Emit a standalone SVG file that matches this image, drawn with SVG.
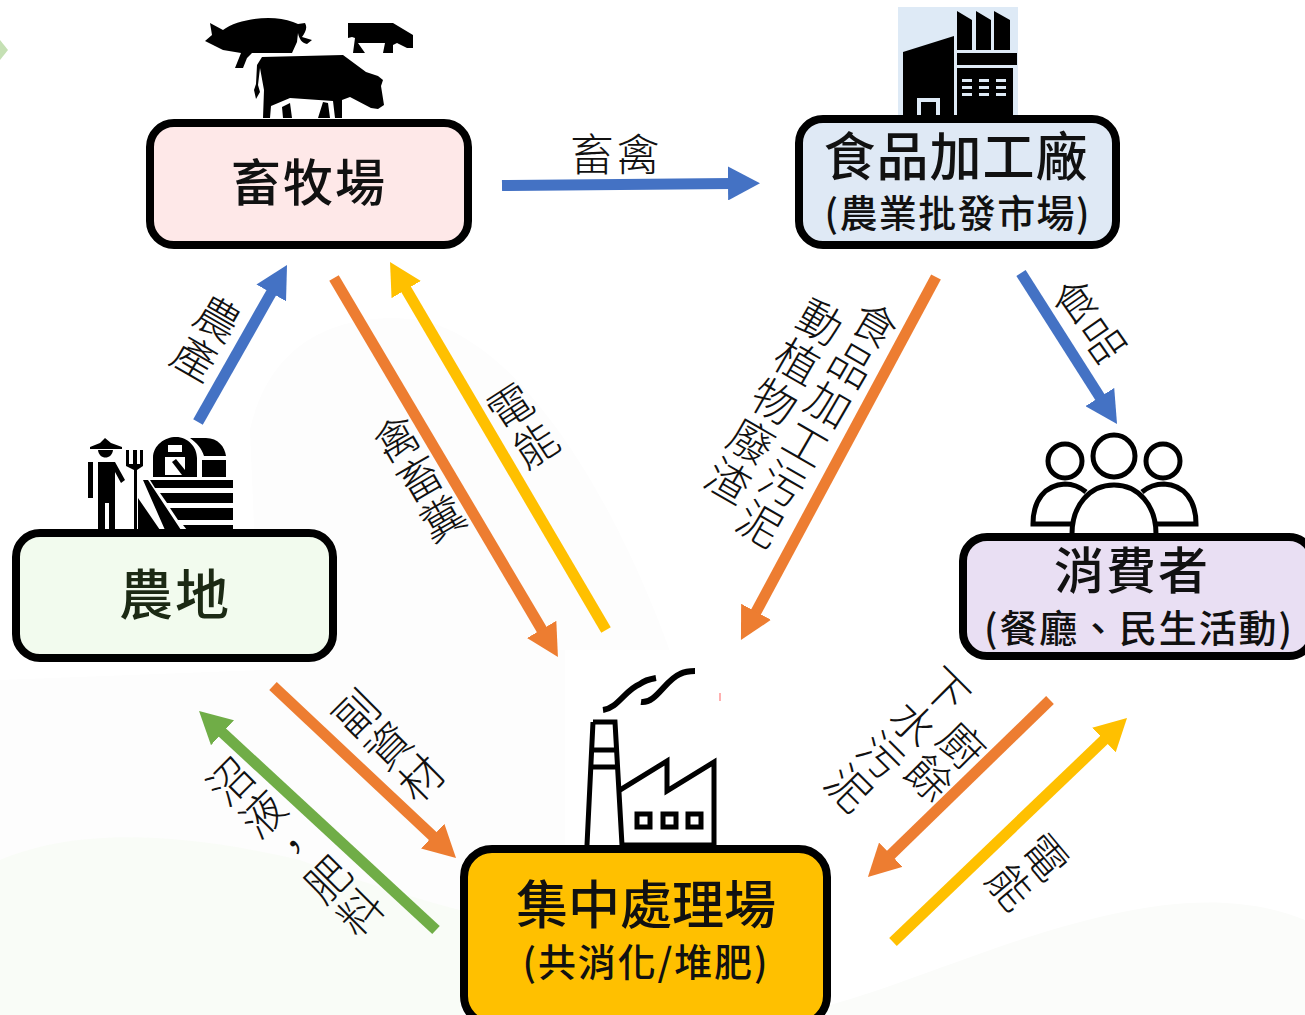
<svg xmlns="http://www.w3.org/2000/svg" width="1305" height="1015" viewBox="0 0 1305 1015">
<style>
.box{stroke:#000;stroke-width:8}
.c{fill:none;stroke-width:11}
.t{font-family:"Noto Sans CJK TC","Noto Sans CJK SC",sans-serif;fill:#111;text-anchor:middle}
.title{font-size:50px;font-weight:500;letter-spacing:2px}
.sub{font-size:38px;font-weight:500}
.lab{font-size:44px;font-weight:300;letter-spacing:2px}
.v{writing-mode:vertical-rl}
.ol{fill:none;stroke:#000;stroke-width:5}
</style>
<defs>
<marker id="hb" markerUnits="userSpaceOnUse" markerWidth="32" markerHeight="34" refX="4" refY="17" orient="auto" viewBox="0 0 32 34"><path d="M0 0L32 17L0 34z" fill="#4472c4"/></marker>
<marker id="ho" markerUnits="userSpaceOnUse" markerWidth="32" markerHeight="34" refX="4" refY="17" orient="auto" viewBox="0 0 32 34"><path d="M0 0L32 17L0 34z" fill="#ed7d31"/></marker>
<marker id="hy" markerUnits="userSpaceOnUse" markerWidth="32" markerHeight="34" refX="4" refY="17" orient="auto" viewBox="0 0 32 34"><path d="M0 0L32 17L0 34z" fill="#ffc000"/></marker>
<marker id="hg" markerUnits="userSpaceOnUse" markerWidth="32" markerHeight="34" refX="4" refY="17" orient="auto" viewBox="0 0 32 34"><path d="M0 0L32 17L0 34z" fill="#70ad47"/></marker>
</defs>
<rect width="1305" height="1015" fill="#fff"/>
<g id="background">
<path d="M0 40L8 50L0 60z" fill="#c5e0b4"/>
<path d="M250 430C270 340 340 310 420 320C520 340 620 500 680 680L720 1015H0V680L260 670z" fill="#fdfdfd"/>
<path d="M0 860C60 835 150 825 300 860C340 875 420 900 460 910V1015H0z" fill="#f9fcf7"/>
<path d="M830 1005C960 970 1160 860 1305 920V1015H830z" fill="#fbfcfa"/>
<rect x="565" y="650" width="155" height="200" fill="#fff"/>
<rect x="719" y="693" width="2" height="8" fill="#ffb0b0"/>
</g>
<g id="connectors">
<path class="c" stroke="#4472c4" marker-end="url(#hb)" d="M502 185.500L732 183.400"/>
<path class="c" stroke="#4472c4" marker-end="url(#hb)" d="M198 422L273.200 289.400"/>
<path class="c" stroke="#ed7d31" marker-end="url(#ho)" d="M334 278L543.700 632.900"/>
<path class="c" stroke="#ffc000" marker-end="url(#hy)" d="M606 630L404.200 286.100"/>
<path class="c" stroke="#ed7d31" marker-end="url(#ho)" d="M936 277L754.200 615.300"/>
<path class="c" stroke="#4472c4" marker-end="url(#hb)" d="M1021 273L1102 400.400"/>
<path class="c" stroke="#ed7d31" marker-end="url(#ho)" d="M273 686L435.600 838.800"/>
<path class="c" stroke="#70ad47" marker-end="url(#hg)" d="M436 930L219.600 730"/>
<path class="c" stroke="#ed7d31" marker-end="url(#ho)" d="M1050 700L888 857.500"/>
<path class="c" stroke="#ffc000" marker-end="url(#hy)" d="M893 942L1106.800 737.300"/>
</g>
<g id="connector-labels" class="t">
<text class="lab" x="616" y="171">畜禽</text>
<text class="lab v" transform="translate(206 339) rotate(30)">農產</text>
<text class="lab v" transform="translate(420 479) rotate(-30)">禽畜糞</text>
<text class="lab v" transform="translate(523 426) rotate(-33)">電能</text>
<text class="lab v" transform="translate(817 425) rotate(30)">食品加工污泥</text>
<text class="lab v" transform="translate(774 402) rotate(30)">動植物廢渣</text>
<text class="lab v" transform="translate(1089 321) rotate(-35)">食品</text>
<text class="lab v" transform="translate(389 746) rotate(-45)">副資材</text>
<text class="lab v" transform="translate(296 847) rotate(-45)">沼液，肥料</text>
<text class="lab v" transform="translate(945 762) rotate(45)">廚餘</text>
<text class="lab v" transform="translate(897 740) rotate(45)">下水污泥</text>
<text class="lab v" transform="translate(1027 872) rotate(50)">電能</text>
</g>
<g id="node-farm">
<rect class="box" x="150" y="123" width="318" height="122" rx="24" fill="#fee8e8"/>
<text class="t title" x="309" y="201">畜牧場</text>
<path d="M205 41L212 35L210 23L223 30C238 19 272 14 293 22L298 24L305 23C308 28 305 33 302 37L312 40L307 44C302 43 299 39 298 33L297 42L292 53L280 53L252 53L247 58L243 68H235L241 53L223 50L213 45z"/>
<path d="M262 57L343 55L366 72L378 76L383 80L381 86L384 105L378 109L371 108L350 97L342 100V118H335L333 101L290 98L271 106L270 118H263L264 90L260 68L258 85L260 92L256 99L254 90L256 84L257 65zM282 107L290 103L292 118H283zM323 102L328 103L330 118H318z"/>
<path d="M348 23H393L413 35V48H407L397 43L393 45V53H383L385 43H358L365 53H353L355 38L352 37L348 38z"/>
</g>
<g id="node-food-plant">
<rect x="898" y="7" width="120" height="112" fill="#deeaf6"/>
<rect class="box" x="799" y="119" width="317" height="126" rx="24" fill="#dfe9f5"/>
<text class="t title" x="956" y="176" style="font-size:52px;letter-spacing:1px">食品加工廠</text>
<text class="t sub" x="957" y="227" textLength="265">(農業批發市場)</text>
<path d="M903 52L954 36V115H903zM917 98V115H921V102H936V115H940V98z" fill-rule="evenodd"/>
<path d="M957 11L972 20V50H957zM976 11L991 20V50H976zM994 11L1010 20V50H994z"/>
<path d="M957 53H1017V65H957z"/>
<path d="M957 68H1013V115H957zM962 79V82H972V79zM979 79V82H989V79zM996 79V82H1006V79zM962 86V89H972V86zM979 86V89H989V86zM996 86V89H1006V86zM962 93V96H972V93zM979 93V96H989V93zM996 93V96H1006V93z" fill-rule="evenodd"/>
</g>
<g id="node-farmland">
<rect class="box" x="16" y="533" width="317" height="125" rx="24" fill="#f2fbee"/>
<text class="t title" x="175" y="615" style="font-size:54px;fill:#1c2a14">農地</text>
<path d="M90 447L100 443L105 438L111 443L122 447V449H90zM98 450H113C112 460 99 460 98 450z"/>
<path d="M88 462H93V498H88zM98 462H115L125 480L121 483L115 472V530H109V503H105V530H98z"/>
<path d="M126 450H129V464H133V450H137V464H140V450H143V466L137 470V530H134V470L126 466z"/>
<path fill-rule="evenodd" d="M153 477V458C153 445 165 437 176 437C188 437 197 447 197 458V477zM168 445V452H182V445zM165 457V475H185V457z"/>
<path d="M172 462L176 459L185 470V475H182z"/>
<path d="M190 438H206C218 438 225 447 226 456H204C202 449 197 443 190 438zM202 460H226V477H202z"/>
<path d="M150 480H233V488H155zM160 493H233V503H167zM170 508H233V520H178zM183 525H233V530H187zM143 480H148L181 530H165zM138 498L160 530H138z"/>
</g>
<g id="node-consumer">
<rect class="box" x="963" y="537" width="350" height="119" rx="24" fill="#e9dff3"/>
<text class="t title" x="1132" y="589">消費者</text>
<text class="t sub" x="1138" y="642" textLength="308">(餐廳、民生活動)</text>
<circle class="ol" cx="1065" cy="461" r="17"/>
<circle class="ol" cx="1114" cy="456" r="21"/>
<circle class="ol" cx="1163" cy="461" r="17"/>
<path class="ol" d="M1072 524H1033C1033 500 1045 485 1065 484C1072 484 1080 487 1086 492"/>
<path class="ol" d="M1156 524H1196C1196 500 1184 485 1164 484C1157 484 1148 487 1142 492"/>
<path class="ol" d="M1072 534C1072 505 1090 485 1114 485C1138 485 1156 505 1156 534"/>
</g>
<g id="node-plant">
<rect class="box" x="464" y="849" width="363" height="175" rx="28" fill="#ffc000"/>
<text class="t title" x="646" y="924" style="font-size:52px;letter-spacing:0">集中處理場</text>
<text class="t sub" x="645" y="976" textLength="245">(共消化/堆肥)</text>
<path class="ol" style="stroke-width:6" d="M603 710C618 708 625 690 640 684C645 680 650 679 656 678M641 702C656 704 665 680 680 674C686 671 690 671 695 671"/>
<path class="ol" d="M593 722H615L622 845M593 722L587 845M591 750H617M590 767H618"/>
<path class="ol" d="M620 790L667 761V791L714 762V845H620"/>
<rect x="637" y="814" width="13" height="13" class="ol" style="stroke-width:5"/>
<rect x="663" y="814" width="13" height="13" class="ol" style="stroke-width:5"/>
<rect x="688" y="814" width="13" height="13" class="ol" style="stroke-width:5"/>
</g>
</svg>
